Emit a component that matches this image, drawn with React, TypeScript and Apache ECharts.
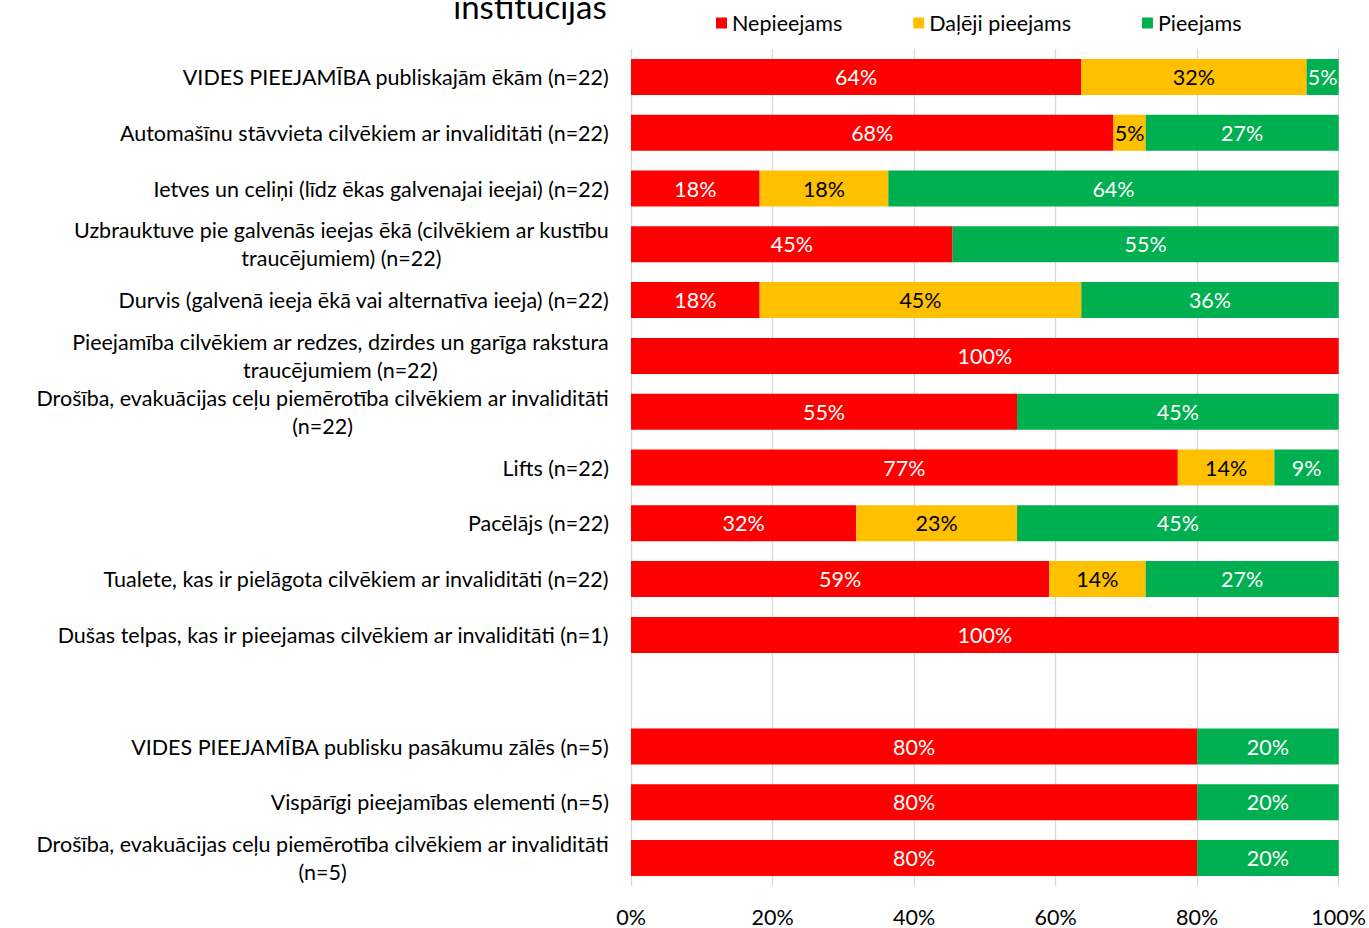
import React, { useEffect, useRef } from "react";
import * as echarts from "echarts";

const categories = [
  "VIDES PIEEJAMĪBA publiskajām ēkām (n=22)",
  "Automašīnu stāvvieta cilvēkiem ar invaliditāti (n=22)",
  "Ietves un celiņi (līdz ēkas galvenajai ieejai) (n=22)",
  "Uzbrauktuve pie galvenās ieejas ēkā (cilvēkiem ar kustību\ntraucējumiem) (n=22)",
  "Durvis (galvenā ieeja ēkā vai alternatīva ieeja) (n=22)",
  "Pieejamība cilvēkiem ar redzes, dzirdes un garīga rakstura\ntraucējumiem (n=22)",
  "Drošība, evakuācijas ceļu piemērotība cilvēkiem ar invaliditāti\n(n=22)",
  "Lifts (n=22)",
  "Pacēlājs (n=22)",
  "Tualete, kas ir pielāgota cilvēkiem ar invaliditāti (n=22)",
  "Dušas telpas, kas ir pieejamas cilvēkiem ar invaliditāti (n=1)",
  "",
  "VIDES PIEEJAMĪBA publisku pasākumu zālēs (n=5)",
  "Vispārīgi pieejamības elementi (n=5)",
  "Drošība, evakuācijas ceļu piemērotība cilvēkiem ar invaliditāti\n(n=5)",
];

const seriesNames = ["Nepieejams", "Daļēji pieejams", "Pieejams"];
const notAccessible = [63.64, 68.18, 18.18, 45.45, 18.18, 100, 54.55, 77.27, 31.82, 59.09, 100, null, 80, 80, 80];
const partlyAccessible = [31.82, 4.55, 18.18, 0, 45.45, 0, 0, 13.64, 22.73, 13.64, 0, null, 0, 0, 0];
const accessible = [4.54, 27.27, 63.64, 54.55, 36.37, 0, 45.45, 9.09, 45.45, 27.27, 0, null, 20, 20, 20];
const xTicks = [0, 20, 40, 60, 80, 100];

const FONT = "Lato, 'Noto Sans', sans-serif";
const FS = 21.5;

export default function App() {
  const ref = useRef<HTMLDivElement>(null);
  useEffect(() => {
    document.body.style.margin = "0";
    if (!ref.current) return;
    const chart = echarts.init(ref.current, null, { renderer: "svg" });
    const labelFmt = (p: any) => (p.value ? Math.round(p.value) + "%" : "");
    const mk = (name: string, data: any[], color: string, labelColor: string) => ({
      name,
      type: "bar",
      stack: "total",
      barWidth: 36,
      data,
      itemStyle: { color },
      label: {
        show: true,
        position: "inside",
        formatter: labelFmt,
        color: labelColor,
        fontSize: FS,
        fontFamily: FONT,
      },
    });
    chart.setOption({
      animation: false,
      textStyle: { fontFamily: FONT },
      graphic: [
        {
          type: "text",
          x: 530,
          y: 6,
          style: {
            text: "institūcijas",
            fontSize: 33,
            fontFamily: FONT,
            fill: "#000",
            align: "center",
            verticalAlign: "middle",
          },
        },
      ],
      legend: {
        left: 711,
        top: 7,
        icon: "rect",
        itemWidth: 11,
        itemHeight: 11,
        itemGap: 71,
        data: seriesNames,
        textStyle: { fontSize: FS, color: "#000", fontFamily: FONT },
      },
      grid: { left: 631, right: 29, top: 49, bottom: 40, containLabel: false },
      xAxis: {
        type: "value",
        min: xTicks[0],
        max: xTicks[xTicks.length - 1],
        interval: 20,
        axisLine: { show: false },
        axisTick: { show: false },
        splitLine: { show: true, lineStyle: { color: "#d9d9d9", width: 1.3 } },
        axisLabel: {
          formatter: "{value}%",
          fontSize: FS,
          color: "#000",
          fontFamily: FONT,
          margin: 20,
        },
      },
      yAxis: {
        type: "category",
        inverse: true,
        data: categories,
        axisLine: { show: false },
        axisTick: { show: false },
        axisLabel: {
          margin: 22,
          formatter: (v: string) =>
            v
              .split("\n")
              .map((l) => "{c|" + l + "}")
              .join("\n"),
          rich: {
            c: {
              align: "center",
              fontSize: FS,
              lineHeight: 28,
              color: "#000",
              fontFamily: FONT,
            },
          },
        },
      },
      series: [
        mk(seriesNames[0], notAccessible, "#FF0000", "#fff"),
        mk(seriesNames[1], partlyAccessible, "#FFC000", "#000"),
        mk(seriesNames[2], accessible, "#00B050", "#fff"),
      ],
    });
    return () => chart.dispose();
  }, []);
  return <div ref={ref} style={{ width: 1369, height: 928 }} />;
}
